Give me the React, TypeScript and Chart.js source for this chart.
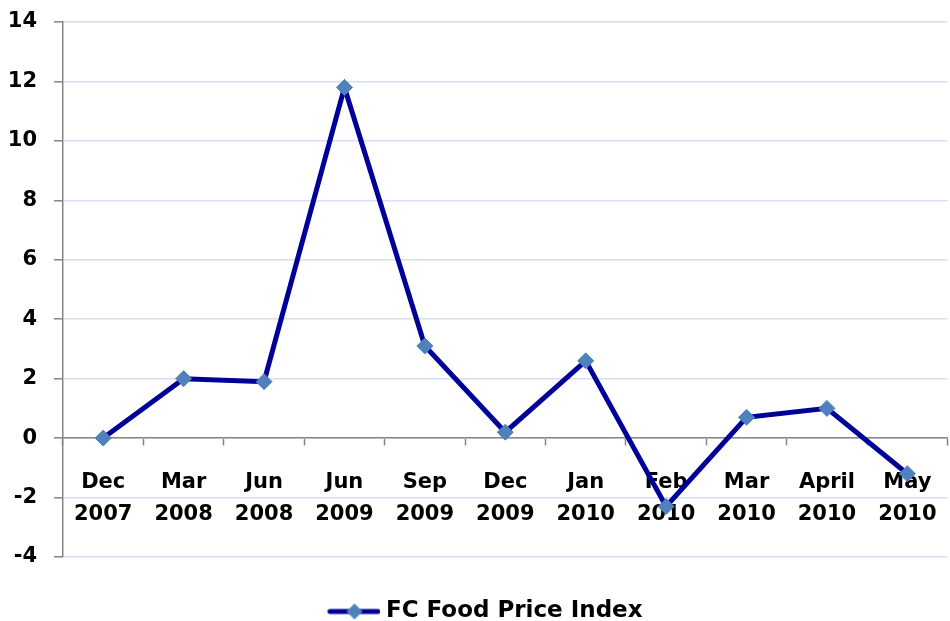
import React, { useEffect, useRef } from "react";
import { Chart, registerables } from "chart.js";

Chart.register(...registerables);

const categories: string[][] = [
  ["Dec", "2007"],
  ["Mar", "2008"],
  ["Jun", "2008"],
  ["Jun", "2009"],
  ["Sep", "2009"],
  ["Dec", "2009"],
  ["Jan", "2010"],
  ["Feb", "2010"],
  ["Mar", "2010"],
  ["April", "2010"],
  ["May", "2010"],
];
const foodPriceIndex: number[] = [0, 2.0, 1.9, 11.8, 3.1, 0.2, 2.6, -2.3, 0.7, 1.0, -1.2];
const seriesName = "FC Food Price Index";
const yMin = -4;
const yMax = 14;
const yStep = 2;

const LINE_COLOR = "#000099";
const MARKER_COLOR = "#4F81BD";
const AXIS_COLOR = "#868686";
const GRID_COLOR = "#D3E0F2";
const FONT_FAMILY = "'DejaVu Sans', sans-serif";

function makeLegendSymbol(): HTMLCanvasElement {
  const c = document.createElement("canvas");
  c.width = 66;
  c.height = 20;
  const ctx = c.getContext("2d")!;
  ctx.strokeStyle = LINE_COLOR;
  ctx.lineWidth = 5;
  ctx.lineCap = "round";
  ctx.beginPath();
  ctx.moveTo(15.5, 10);
  ctx.lineTo(63.5, 10);
  ctx.stroke();
  ctx.fillStyle = MARKER_COLOR;
  const cx = 40;
  ctx.beginPath();
  ctx.moveTo(cx - 8, 10);
  ctx.lineTo(cx, 2);
  ctx.lineTo(cx + 8, 10);
  ctx.lineTo(cx, 18);
  ctx.closePath();
  ctx.fill();
  return c;
}

export default function App() {
  const canvasRef = useRef<HTMLCanvasElement | null>(null);

  useEffect(() => {
    if (!canvasRef.current) return;
    const symbol = makeLegendSymbol();
    const chart = new Chart(canvasRef.current, {
      type: "line",
      data: {
        labels: categories,
        datasets: [
          {
            label: seriesName,
            data: foodPriceIndex,
            borderColor: LINE_COLOR,
            backgroundColor: MARKER_COLOR,
            borderWidth: 5,
            pointStyle: "rectRot",
            pointRadius: 8,
            pointHoverRadius: 8,
            pointBackgroundColor: MARKER_COLOR,
            pointBorderColor: MARKER_COLOR,
            pointBorderWidth: 1,
            tension: 0,
            fill: false,
          },
        ],
      },
      options: {
        animation: false,
        responsive: true,
        maintainAspectRatio: false,
        layout: { padding: { left: 4, right: 0, top: 22, bottom: 0 } },
        plugins: {
          tooltip: { enabled: false },
          legend: {
            position: "bottom",
            labels: {
              usePointStyle: true,
              pointStyleWidth: 54,
              padding: 43,
              color: "#000",
              font: { family: FONT_FAMILY, size: 23, weight: "bold" },
              generateLabels: (ch: any) =>
                ch.data.datasets.map((ds: any, i: number) => ({
                  text: ds.label,
                  pointStyle: symbol,
                  fillStyle: MARKER_COLOR,
                  strokeStyle: LINE_COLOR,
                  lineWidth: 0,
                  hidden: false,
                  datasetIndex: i,
                  fontColor: "#000",
                })),
            },
          },
        },
        scales: {
          x: {
            type: "category",
            position: { y: 0 } as any,
            offset: true,
            afterFit: (s: any) => {
              s.height = 0;
            },
            border: { display: true, color: AXIS_COLOR, width: 1.5 },
            grid: {
              display: true,
              drawOnChartArea: false,
              drawTicks: true,
              tickLength: 7,
              tickColor: AXIS_COLOR,
              tickWidth: 1.5,
              offset: true,
            },
            ticks: {
              autoSkip: false,
              maxRotation: 0,
              minRotation: 0,
              padding: 22,
              color: "#000",
              font: { family: FONT_FAMILY, size: 21, weight: "bold", lineHeight: 1.5 },
            },
          },
          y: {
            min: yMin,
            max: yMax,
            afterFit: (s: any) => {
              s.width = 59;
              s.paddingTop = 0;
              s.paddingBottom = 0;
            },
            border: { display: true, color: AXIS_COLOR, width: 1.5 },
            grid: {
              color: GRID_COLOR,
              lineWidth: 1.6,
              drawTicks: true,
              tickLength: 9,
              tickColor: AXIS_COLOR,
              tickWidth: 1.5,
            },
            ticks: {
              stepSize: yStep,
              padding: 17,
              color: "#000",
              font: { family: FONT_FAMILY, size: 21, weight: "bold" },
            },
          },
        },
      },
    });
    return () => chart.destroy();
  }, []);

  return (
    <div
      style={{
        position: "fixed",
        left: 0,
        top: 0,
        width: 950,
        height: 621,
        overflow: "hidden",
        background: "#fff",
      }}
    >
      <div style={{ position: "relative", width: 959, height: 633 }}>
        <canvas ref={canvasRef} />
      </div>
    </div>
  );
}
